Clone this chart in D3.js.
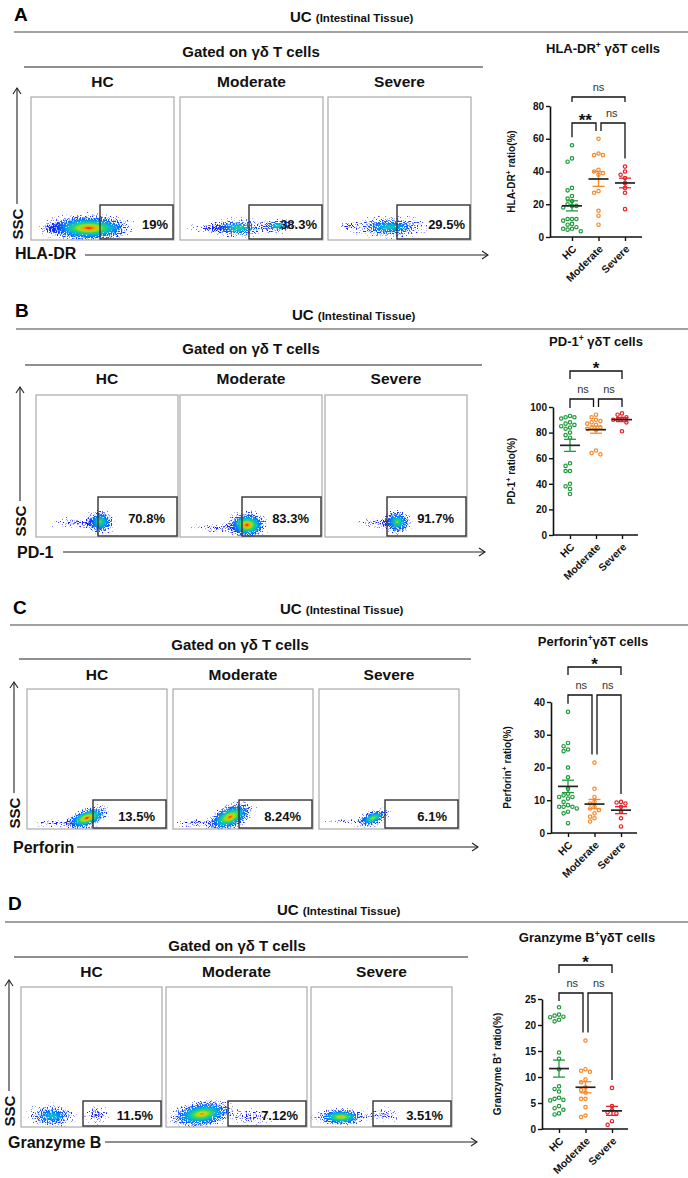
<!DOCTYPE html>
<html>
<head>
<meta charset="utf-8">
<script src="https://cdn.jsdelivr.net/npm/d3@7"></script>
<style>
  body { margin: 0; background: #fff; }
  svg { display: block; font-family: Arial, "Liberation Sans", sans-serif; }
</style>
</head>
<body>
<div id="fig"></div>
<script>
// ---- data ----
const groups = ["HC", "Moderate", "Severe"];
const markers = ["HLA-DR", "PD-1", "Perforin", "Granzyme B"];
const gatePercents = [
  ["19%", "38.3%", "29.5%"],
  ["70.8%", "83.3%", "91.7%"],
  ["13.5%", "8.24%", "6.1%"],
  ["11.5%", "7.12%", "3.51%"]
];
const ticksA = [0, 20, 40, 60, 80];
const ticksB = [0, 20, 40, 60, 80, 100];
const ticksC = [0, 10, 20, 30, 40];
const ticksD = [0, 5, 10, 15, 20, 25];

const hlaHC = [56, 48, 46, 30, 28.5, 25, 23.5, 22, 20, 19, 19, 18, 11, 11, 11, 10, 8, 7.5, 6, 5, 5, 4.5, 3.5];
const hlaMod = [60, 51, 50, 50, 41, 40, 39, 38, 28, 27, 16, 13, 7.5];
const hlaSev = [43, 40, 38, 36, 33, 30, 27, 17];
const pd1HC = [93, 92, 92, 91, 88, 87, 86, 85, 84, 83, 80, 78, 76, 56, 54, 50, 50, 40, 38, 36, 32];
const pd1Mod = [94, 92, 90, 89, 88, 87, 86, 84, 84, 83, 82, 66, 64, 63];
const pd1Sev = [95, 94, 92, 91, 90, 90, 88, 81];
const perHC = [37, 27.5, 26.5, 25.5, 25, 20, 17, 13.5, 12, 11.5, 11, 11, 10.5, 9.5, 8.5, 8, 8, 8, 7.5, 6.5, 6, 3];
const perMod = [21.5, 13.5, 11, 9.5, 9, 8, 7.5, 7, 6, 5, 4.5, 3.5];
const perSev = [9.5, 9.3, 9, 8, 6.5, 4.5, 2];
const gzbHC = [23.4, 22, 21.8, 21.6, 21.5, 21, 20.7, 14.7, 13.5, 11.5, 8.2, 7.7, 7.2, 6, 5.8, 5.6, 5.5, 4.4, 4, 3.7, 3, 2.8];
const gzbMod = [17, 11.5, 11.2, 11, 9.5, 9, 8, 7.5, 7, 5.8, 5.8, 4.2, 2.6, 2.3];
const gzbSev = [7.9, 4.4, 3.6, 3.2, 3, 1.5, 0.8];

const sigA = ["ns", "**", "ns"];
const sigB = ["*", "ns", "ns"];
const sigC = ["*", "ns", "ns"];
const sigD = ["*", "ns", "ns"];

const groupColors = ["#1f9a3c", "#f7892b", "#ea2128"];

// ---- layout ----
const width = 688, height = 1178;
const svg = d3.select("#fig").append("svg")
  .attr("width", width)
  .attr("height", height);
const defs = svg.append("defs");

const jet = d3.interpolateRgbBasis(["#1010ff", "#0070ff", "#00c8e0", "#20d840", "#e8f000", "#ff8c00", "#ff0000"]);

// speckle filter: turns a soft density blob into scattered events
function makeGrain(id, seed) {
  const f = defs.append("filter").attr("id", id)
    .attr("x", "-20%").attr("y", "-40%").attr("width", "140%").attr("height", "180%")
    .attr("color-interpolation-filters", "sRGB");
  f.append("feTurbulence").attr("type", "fractalNoise").attr("baseFrequency", 0.8)
    .attr("numOctaves", 1).attr("seed", seed).attr("result", "n");
  f.append("feColorMatrix").attr("in", "n").attr("type", "matrix")
    .attr("values", "0 0 0 0 0  0 0 0 0 0  0 0 0 0 0  1 0 0 0 0").attr("result", "na");
  f.append("feComposite").attr("in", "SourceAlpha").attr("in2", "na").attr("operator", "arithmetic")
    .attr("k1", 0).attr("k2", 1).attr("k3", 1).attr("k4", -0.72).attr("result", "m");
  f.append("feComponentTransfer").attr("in", "m").attr("result", "mb")
    .append("feFuncA").attr("type", "linear").attr("slope", 7).attr("intercept", 0);
  f.append("feColorMatrix").attr("in", "SourceGraphic").attr("type", "matrix")
    .attr("values", "1 0 0 0 0  0 1 0 0 0  0 0 1 0 0  0 0 0 40 0").attr("result", "solid");
  f.append("feComposite").attr("in", "solid").attr("in2", "mb").attr("operator", "in");
}
makeGrain("grain0", 3);
makeGrain("grain1", 11);
makeGrain("grain2", 27);

let gradCount = 0;
function cloudGradient(heat, dens) {
  const id = "cg" + (gradCount++);
  const gr = defs.append("radialGradient").attr("id", id);
  d3.range(0, 1.0001, 0.1).forEach(t => {
    gr.append("stop")
      .attr("offset", t)
      .attr("stop-color", jet(heat * Math.pow(1 - t, 2.2)))
      .attr("stop-opacity", t >= 1 ? 0 : dens * Math.pow(1 - t, 1.2));
  });
  return id;
}

// event clouds per plot, relative to each box's left/bottom
const cloudShapes = [
  [
    [{ dx: 58, dy: 12, rx: 44, ry: 12, heat: 1.0, dens: 0.95 }, { dx: 22, dy: 12, rx: 14, ry: 5, heat: 0.02, dens: 0.3 }],
    [{ dx: 58, dy: 12, rx: 30, ry: 9, heat: 0.5, dens: 0.55 }, { dx: 98, dy: 14, rx: 20, ry: 7, heat: 0.45, dens: 0.5 }, { dx: 30, dy: 12, rx: 22, ry: 5, heat: 0.02, dens: 0.3 }],
    [{ dx: 62, dy: 13, rx: 40, ry: 10, heat: 0.42, dens: 0.55 }, { dx: 20, dy: 14, rx: 12, ry: 4, heat: 0.02, dens: 0.3 }]
  ],
  [
    [{ dx: 64, dy: 15, rx: 15, ry: 11, heat: 0.6, dens: 0.75 }, { dx: 40, dy: 14, rx: 26, ry: 5, heat: 0.02, dens: 0.3 }],
    [{ dx: 67, dy: 12, rx: 20, ry: 12, heat: 1.0, dens: 0.95 }, { dx: 38, dy: 9, rx: 26, ry: 5, heat: 0.02, dens: 0.3 }],
    [{ dx: 72, dy: 15, rx: 15, ry: 11, heat: 0.62, dens: 0.75 }, { dx: 50, dy: 14, rx: 22, ry: 5, heat: 0.02, dens: 0.3 }]
  ],
  [
    [{ dx: 60, dy: 11, rx: 23, ry: 9, heat: 1.0, dens: 0.9, rot: -20 }, { dx: 28, dy: 6, rx: 24, ry: 4, heat: 0.02, dens: 0.3 }],
    [{ dx: 57, dy: 12, rx: 25, ry: 11, heat: 0.95, dens: 0.9, rot: -25 }, { dx: 22, dy: 6, rx: 24, ry: 4, heat: 0.02, dens: 0.3 }],
    [{ dx: 54, dy: 11, rx: 18, ry: 7, heat: 0.65, dens: 0.75, rot: -20 }, { dx: 25, dy: 8, rx: 20, ry: 3, heat: 0.02, dens: 0.25 }]
  ],
  [
    [{ dx: 31, dy: 11, rx: 25, ry: 11, heat: 0.4, dens: 0.55 }, { dx: 75, dy: 12, rx: 14, ry: 8, heat: 0.02, dens: 0.35 }],
    [{ dx: 36, dy: 13, rx: 33, ry: 12, heat: 0.85, dens: 0.85, rot: -8 }, { dx: 85, dy: 10, rx: 22, ry: 8, heat: 0.02, dens: 0.3 }],
    [{ dx: 30, dy: 10, rx: 26, ry: 8, heat: 0.8, dens: 0.8 }, { dx: 72, dy: 12, rx: 22, ry: 7, heat: 0.02, dens: 0.3 }]
  ]
];
// the speckle threshold eats the faint rim, so blobs are drawn a bit larger
const spreadX = 1.2, spreadY = 1.35;

const flowLayouts = [
  { letter: "A", letterX: 14, letterY: 21, ucX: 290, ucY: 22, line1Y: 32, line1X: 14, gatedX: 251, gatedY: 57, line2Y: 67, line2X: [24, 483],
    labelY: 87, boxY: 97, boxH: 143, boxW: 143, boxX: [31, 180, 328], gateW: 73, gateH: 34, pctPad: 5,
    sscX: 17, sscTop: 88, markerX: 15, markerY: 259, arrowY: 255, arrowX: [85, 488] },
  { letter: "B", letterX: 15, letterY: 317, ucX: 292, ucY: 320, line1Y: 329, line1X: 16, gatedX: 251, gatedY: 354, line2Y: 365, line2X: [25, 482],
    labelY: 384, boxY: 395, boxH: 142, boxW: 142, boxX: [36, 180, 325], gateW: 79, gateH: 39, pctPad: 12,
    sscX: 20, sscTop: 387, markerX: 17, markerY: 558, arrowY: 552, arrowX: [63, 485] },
  { letter: "C", letterX: 13, letterY: 614, ucX: 280, ucY: 614, line1Y: 625, line1X: 10, gatedX: 240, gatedY: 650, line2Y: 659, line2X: [19, 471],
    labelY: 680, boxY: 689, boxH: 140, boxW: 140, boxX: [27, 173, 319], gateW: 73, gateH: 28, pctPad: 11,
    sscX: 14, sscTop: 682, markerX: 13, markerY: 853, arrowY: 847, arrowX: [77, 478] },
  { letter: "D", letterX: 8, letterY: 910, ucX: 277, ucY: 915, line1Y: 922, line1X: 5, gatedX: 237, gatedY: 951, line2Y: 957, line2X: [14, 468],
    labelY: 977, boxY: 987, boxH: 140, boxW: 141, boxX: [21, 166, 311], gateW: 78, gateH: 25, pctPad: 8,
    sscX: 9, sscTop: 980, markerX: 8, markerY: 1148, arrowY: 1142, arrowX: [105, 477] }
];

function flowPanel(p, pi) {
  const g = svg.append("g");
  g.append("text").attr("x", p.letterX).attr("y", p.letterY)
    .attr("font-size", 19).attr("font-weight", "bold").text(p.letter);

  const uc = g.append("text").attr("x", p.ucX).attr("y", p.ucY).attr("font-weight", "bold").attr("fill", "#111");
  uc.append("tspan").attr("font-size", 15).text("UC ");
  uc.append("tspan").attr("font-size", 11.5).text("(Intestinal Tissue)");

  g.append("line").attr("x1", p.line1X).attr("x2", 688).attr("y1", p.line1Y).attr("y2", p.line1Y)
    .attr("stroke", "#444").attr("stroke-width", 1.2);
  g.append("text").attr("x", p.gatedX).attr("y", p.gatedY).attr("text-anchor", "middle")
    .attr("font-size", 15).attr("font-weight", "bold").attr("fill", "#111").text("Gated on γδ T cells");
  g.append("line").attr("x1", p.line2X[0]).attr("x2", p.line2X[1]).attr("y1", p.line2Y).attr("y2", p.line2Y)
    .attr("stroke", "#222").attr("stroke-width", 1.2);

  groups.forEach((name, i) => {
    const x0 = p.boxX[i], y0 = p.boxY, bw = p.boxW, bh = p.boxH;
    g.append("text").attr("x", x0 + bw / 2).attr("y", p.labelY).attr("text-anchor", "middle")
      .attr("font-size", 15.5).attr("font-weight", "bold").attr("fill", "#111").text(name);

    const clipId = `clip${pi}_${i}`;
    defs.append("clipPath").attr("id", clipId).append("rect")
      .attr("x", x0).attr("y", y0).attr("width", bw).attr("height", bh);

    const cg = g.append("g").attr("clip-path", `url(#${clipId})`)
      .append("g").attr("filter", `url(#grain${i})`);
    cloudShapes[pi][i].forEach(c => {
      const cx = x0 + c.dx, cy = y0 + bh - c.dy;
      cg.append("ellipse")
        .attr("cx", cx).attr("cy", cy).attr("rx", c.rx * spreadX).attr("ry", c.ry * spreadY)
        .attr("transform", `rotate(${c.rot || 0},${cx},${cy})`)
        .attr("fill", `url(#${cloudGradient(c.heat, c.dens)})`);
    });

    g.append("rect").attr("x", x0).attr("y", y0).attr("width", bw).attr("height", bh)
      .attr("fill", "none").attr("stroke", "#aaa").attr("stroke-width", 1.2);

    const gx = x0 + bw - 1 - p.gateW, gy = y0 + bh - 1 - p.gateH;
    g.append("rect").attr("x", gx).attr("y", gy).attr("width", p.gateW).attr("height", p.gateH)
      .attr("fill", "none").attr("stroke", "#333").attr("stroke-width", 1.4);
    g.append("text").attr("x", gx + p.gateW - p.pctPad).attr("y", gy + p.gateH / 2 + 2)
      .attr("text-anchor", "end").attr("dominant-baseline", "central")
      .attr("font-size", 13).attr("font-weight", "bold").attr("fill", "#111")
      .text(gatePercents[pi][i]);
  });

  // SSC axis arrow
  const yb = p.boxY + p.boxH;
  g.append("text").attr("transform", `translate(${p.sscX},${yb - 16}) rotate(-90)`)
    .attr("text-anchor", "middle").attr("dominant-baseline", "central")
    .attr("font-size", 15).attr("font-weight", "bold").attr("fill", "#111").text("SSC");
  g.append("line").attr("x1", p.sscX).attr("x2", p.sscX).attr("y1", p.sscTop).attr("y2", yb - 36)
    .attr("stroke", "#222").attr("stroke-width", 1.1);
  g.append("path").attr("d", `M${p.sscX - 4},${p.sscTop + 6}L${p.sscX},${p.sscTop}L${p.sscX + 4},${p.sscTop + 6}`)
    .attr("fill", "none").attr("stroke", "#222").attr("stroke-width", 1.1);

  // marker axis arrow
  g.append("text").attr("x", p.markerX).attr("y", p.markerY)
    .attr("font-size", 16).attr("font-weight", "bold").attr("fill", "#111").text(markers[pi]);
  g.append("line").attr("x1", p.arrowX[0]).attr("x2", p.arrowX[1]).attr("y1", p.arrowY).attr("y2", p.arrowY)
    .attr("stroke", "#222").attr("stroke-width", 1.1);
  g.append("path").attr("d", `M${p.arrowX[1] - 6},${p.arrowY - 4}L${p.arrowX[1]},${p.arrowY}L${p.arrowX[1] - 6},${p.arrowY + 4}`)
    .attr("fill", "none").attr("stroke", "#222").attr("stroke-width", 1.1);
}

flowLayouts.forEach(flowPanel);

// ---- dot plots ----
const scatterLayouts = [
  { name: "HLA-DR", sep: " ", titleX: 603, titleY: 53, axisX: 550, axisEnd: 642, y0: 237, yTop: 106, yMax: 80, ticks: ticksA,
    xs: [572, 625], ytitleX: 515, data: [hlaHC, hlaMod, hlaSev], sig: sigA, topY: 97, lowY: 123, topLeg: 5 },
  { name: "PD-1", sep: " ", titleX: 596, titleY: 346, axisX: 553, axisEnd: 638, y0: 535, yTop: 407, yMax: 100, ticks: ticksB,
    xs: [570, 622], ytitleX: 515, data: [pd1HC, pd1Mod, pd1Sev], sig: sigB, topY: 371, lowY: 399, topLeg: 8 },
  { name: "Perforin", sep: "", titleX: 593, titleY: 646, axisX: 551, axisEnd: 637, y0: 833, yTop: 702, yMax: 40, ticks: ticksC,
    xs: [568, 621], ytitleX: 511, data: [perHC, perMod, perSev], sig: sigC, topY: 667, lowY: 695, topLeg: 8 },
  { name: "Granzyme B", sep: "", titleX: 587, titleY: 942, axisX: 542, axisEnd: 628, y0: 1129, yTop: 999, yMax: 25, ticks: ticksD,
    xs: [559, 612], ytitleX: 501, data: [gzbHC, gzbMod, gzbSev], sig: sigD, topY: 965, lowY: 993, topLeg: 8 }
];

function swarm(vals, cx, y, step, minDist) {
  const placed = [];
  vals.slice().sort((a, b) => b - a).forEach(v => {
    const py = y(v);
    for (let k = 0; k < 12; k++) {
      const off = k === 0 ? 0 : (k % 2 ? -1 : 1) * Math.ceil(k / 2) * step;
      const px = cx + off;
      if (placed.every(p => Math.hypot(p.x - px, p.y - py) >= minDist)) {
        placed.push({ x: px, y: py, v });
        return;
      }
    }
    placed.push({ x: cx, y: py, v });
  });
  return placed;
}

function scatterPanel(s) {
  const g = svg.append("g");
  const y = d3.scaleLinear().domain([0, s.yMax]).range([s.y0, s.yTop]);
  const x = d3.scalePoint().domain(groups).range(s.xs);

  const t = g.append("text").attr("x", s.titleX).attr("y", s.titleY).attr("text-anchor", "middle")
    .attr("font-size", 13).attr("font-weight", "bold").attr("fill", "#111");
  t.append("tspan").text(s.name);
  t.append("tspan").attr("font-size", 8.5).attr("dy", -5).text("+");
  t.append("tspan").attr("dy", 5).text(s.sep + "γδT cells");

  const yt = g.append("text").attr("transform", `translate(${s.ytitleX},${(s.y0 + s.yTop) / 2}) rotate(-90)`)
    .attr("text-anchor", "middle").attr("font-size", 10).attr("font-weight", "bold").attr("fill", "#111");
  yt.append("tspan").text(s.name);
  yt.append("tspan").attr("font-size", 7).attr("dy", -4).text("+");
  yt.append("tspan").attr("dy", 4).text(" ratio(%)");

  const ya = g.append("g").attr("transform", `translate(${s.axisX},0)`)
    .call(d3.axisLeft(y).tickValues(s.ticks).tickSize(4).tickSizeOuter(0).tickPadding(2));
  ya.select(".domain").attr("stroke", "#111").attr("stroke-width", 1.6);
  ya.selectAll(".tick line").attr("stroke", "#111").attr("stroke-width", 1.4);
  ya.selectAll(".tick text").attr("font-size", 10).attr("font-weight", "bold").attr("fill", "#111")
    .attr("font-family", null);

  g.append("line").attr("x1", s.axisX).attr("x2", s.axisEnd).attr("y1", s.y0).attr("y2", s.y0)
    .attr("stroke", "#111").attr("stroke-width", 1.6);
  const xa = g.append("g").attr("transform", `translate(0,${s.y0})`)
    .call(d3.axisBottom(x).tickSize(4).tickSizeOuter(0));
  xa.select(".domain").remove();
  xa.selectAll(".tick line").attr("stroke", "#111").attr("stroke-width", 1.4);
  xa.selectAll(".tick text")
    .attr("x", 0).attr("y", 0).attr("dy", "0.35em")
    .attr("transform", "translate(2,10) rotate(-45)")
    .attr("text-anchor", "end")
    .attr("font-size", 10.5).attr("font-weight", "bold").attr("fill", "#111")
    .attr("font-family", null);

  s.data.forEach((vals, i) => {
    const cx = x(groups[i]);
    const col = groupColors[i];
    swarm(vals, cx, y, 4.4, 4.1).forEach(p => {
      g.append("circle").attr("cx", p.x).attr("cy", p.y).attr("r", 1.7)
        .attr("fill", "#fff").attr("stroke", col).attr("stroke-width", 1.2);
    });
    const m = d3.mean(vals), se = d3.deviation(vals) / Math.sqrt(vals.length);
    g.append("line").attr("x1", cx).attr("x2", cx).attr("y1", y(m - se)).attr("y2", y(m + se))
      .attr("stroke", col).attr("stroke-width", 1.3);
    [m - se, m + se].forEach(v => {
      g.append("line").attr("x1", cx - 6).attr("x2", cx + 6).attr("y1", y(v)).attr("y2", y(v))
        .attr("stroke", col).attr("stroke-width", 1.3);
    });
    g.append("line").attr("x1", cx - 10).attr("x2", cx + 10).attr("y1", y(m)).attr("y2", y(m))
      .attr("stroke", "#222").attr("stroke-width", 1.7);
  });

  // significance brackets
  const legEnd = i => Math.max(s.lowY + 8, y(d3.max(s.data[i])) - 8);
  const bracket = (xa1, xa2, top, e1, e2) => {
    g.append("path").attr("d", `M${xa1},${e1}V${top}H${xa2}V${e2}`)
      .attr("fill", "none").attr("stroke", "#111").attr("stroke-width", 1.3);
  };
  const label = (txt, xc, yb) => {
    const star = txt.includes("*");
    g.append("text").attr("x", xc).attr("y", star ? yb + 3 : yb - 6).attr("text-anchor", "middle")
      .attr("font-size", star ? 17 : 11).attr("font-weight", star ? "bold" : "normal")
      .attr("fill", star ? "#111" : "#333").text(txt);
  };
  const [xH, xM, xS] = groups.map(d => x(d));
  bracket(xH, xS, s.topY, s.topY + s.topLeg, s.topY + s.topLeg);
  label(s.sig[0], (xH + xS) / 2, s.topY);
  bracket(xH, xM - 2.5, s.lowY, legEnd(0), legEnd(1));
  label(s.sig[1], (xH + xM) / 2, s.lowY);
  bracket(xM + 2.5, xS, s.lowY, legEnd(1), legEnd(2));
  label(s.sig[2], (xM + xS) / 2, s.lowY);
}

scatterLayouts.forEach(scatterPanel);
</script>
</body>
</html>
